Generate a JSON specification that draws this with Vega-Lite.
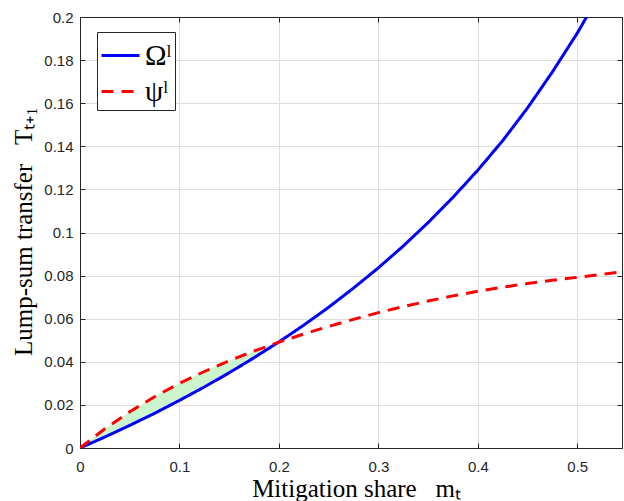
{
  "$schema": "https://vega.github.io/schema/vega-lite/v6.json",
  "width": 542,
  "height": 431,
  "autosize": {"type": "none"},
  "padding": {"left": 80, "top": 17, "right": 2, "bottom": 53},
  "background": "white",
  "data": {
    "values": [
      {"m": 0, "omega": 0, "psi": 0},
      {"m": 0.025, "omega": 0.0051, "psi": 0.0089},
      {"m": 0.05, "omega": 0.0105, "psi": 0.0168},
      {"m": 0.075, "omega": 0.0161, "psi": 0.0238},
      {"m": 0.1, "omega": 0.0221, "psi": 0.03},
      {"m": 0.125, "omega": 0.0283, "psi": 0.0355},
      {"m": 0.15, "omega": 0.0349, "psi": 0.0405},
      {"m": 0.175, "omega": 0.0419, "psi": 0.045},
      {"m": 0.2, "omega": 0.0492, "psi": 0.0491},
      {"m": 0.225, "omega": 0.057, "psi": 0.0529},
      {"m": 0.25, "omega": 0.0653, "psi": 0.0564},
      {"m": 0.275, "omega": 0.0742, "psi": 0.0597},
      {"m": 0.3, "omega": 0.0836, "psi": 0.0628},
      {"m": 0.325, "omega": 0.0937, "psi": 0.0656},
      {"m": 0.35, "omega": 0.1046, "psi": 0.0682},
      {"m": 0.375, "omega": 0.1163, "psi": 0.0706},
      {"m": 0.4, "omega": 0.1289, "psi": 0.0727},
      {"m": 0.425, "omega": 0.1426, "psi": 0.0746},
      {"m": 0.45, "omega": 0.1578, "psi": 0.0763},
      {"m": 0.475, "omega": 0.1745, "psi": 0.0778},
      {"m": 0.5, "omega": 0.1925, "psi": 0.0792},
      {"m": 0.525, "omega": 0.2125, "psi": 0.0806},
      {"m": 0.545, "omega": 0.23, "psi": 0.0817}
    ]
  },
  "config": {
    "view": {"stroke": "#262626", "strokeWidth": 1},
    "axis": {
      "domainColor": "#262626",
      "tickColor": "#262626",
      "labelColor": "#262626",
      "labelFont": "Liberation Sans",
      "labelFontSize": 15,
      "labelFlush": false,
      "labelOverlap": false,
      "gridColor": "#dedede",
      "gridWidth": 1,
      "tickSize": -5,
      "titleFont": "Liberation Serif",
      "titleFontSize": 25,
      "titleFontWeight": "normal",
      "titleColor": "black"
    }
  },
  "layer": [
    {
      "transform": [{"filter": "datum.m <= 0.2"}],
      "mark": {"type": "area", "color": "#cdf5cd", "opacity": 1},
      "encoding": {
        "x": {
          "field": "m",
          "type": "quantitative",
          "scale": {"domain": [0, 0.545], "nice": false, "zero": false},
          "axis": {
            "orient": "bottom",
            "values": [0, 0.1, 0.2, 0.3, 0.4, 0.5],
            "labelExpr": "format(datum.value, '~g')",
            "labelPadding": 16,
            "grid": true,
            "title": "Mitigation share\u00a0\u00a0\u00a0mₜ",
            "titleX": 276,
            "titleY": 48,
            "titleBaseline": "alphabetic",
            "titleAlign": "center"
          }
        },
        "y": {
          "field": "psi",
          "type": "quantitative",
          "scale": {"domain": [0, 0.2], "nice": false, "zero": false},
          "axis": {
            "orient": "left",
            "values": [0, 0.02, 0.04, 0.06, 0.08, 0.1, 0.12, 0.14, 0.16, 0.18, 0.2],
            "labelExpr": "format(datum.value, '~g')",
            "labelPadding": 12,
            "grid": true,
            "title": "Lump-sum transfer\u00a0\u00a0\u00a0Tₜ₊₁",
            "titleAngle": -90,
            "titleX": -49,
            "titleY": 214,
            "titleBaseline": "alphabetic",
            "titleAlign": "center"
          }
        },
        "y2": {"field": "omega"}
      }
    },
    {
      "transform": [{"fold": ["omega", "psi"], "as": ["series", "val"]}],
      "mark": {"type": "line", "clip": true, "strokeWidth": 3},
      "encoding": {
        "x": {"field": "m", "type": "quantitative", "axis": null},
        "y": {"field": "val", "type": "quantitative", "axis": null},
        "color": {
          "field": "series",
          "type": "nominal",
          "scale": {"domain": ["omega", "psi"], "range": ["#0000ff", "#ff0000"]},
          "legend": {
            "orient": "none",
            "legendX": 17,
            "legendY": 15,
            "title": null,
            "symbolType": "stroke",
            "symbolSize": 1444,
            "symbolStrokeWidth": 3,
            "labelFont": "Liberation Serif",
            "labelFontSize": 29,
            "labelColor": "black",
            "labelOffset": 4,
            "strokeColor": "#262626",
            "fillColor": "white",
            "padding": 3,
            "rowPadding": 0,
            "labelExpr": "datum.label == 'omega' ? 'Ωˡ' : 'ψˡ'"
          }
        },
        "strokeDash": {
          "field": "series",
          "type": "nominal",
          "scale": {"domain": ["omega", "psi"], "range": [[1, 0], [12, 8]]},
          "legend": {
            "orient": "none",
            "legendX": 17,
            "legendY": 15,
            "title": null,
            "symbolType": "stroke",
            "symbolSize": 1444,
            "symbolStrokeWidth": 3,
            "labelFont": "Liberation Serif",
            "labelFontSize": 29,
            "labelColor": "black",
            "labelOffset": 4,
            "strokeColor": "#262626",
            "fillColor": "white",
            "padding": 3,
            "rowPadding": 0,
            "labelExpr": "datum.label == 'omega' ? 'Ωˡ' : 'ψˡ'"
          }
        }
      }
    },
    {
      "mark": {"type": "point", "opacity": 0},
      "encoding": {
        "x": {
          "field": "m",
          "type": "quantitative",
          "axis": {"orient": "top", "values": [0, 0.1, 0.2, 0.3, 0.4, 0.5], "labels": false, "title": null, "grid": false}
        },
        "y": {
          "field": "psi",
          "type": "quantitative",
          "axis": {"orient": "right", "values": [0, 0.02, 0.04, 0.06, 0.08, 0.1, 0.12, 0.14, 0.16, 0.18, 0.2], "labels": false, "title": null, "grid": false}
        }
      }
    }
  ],
  "resolve": {"axis": {"x": "independent", "y": "independent"}}
}
